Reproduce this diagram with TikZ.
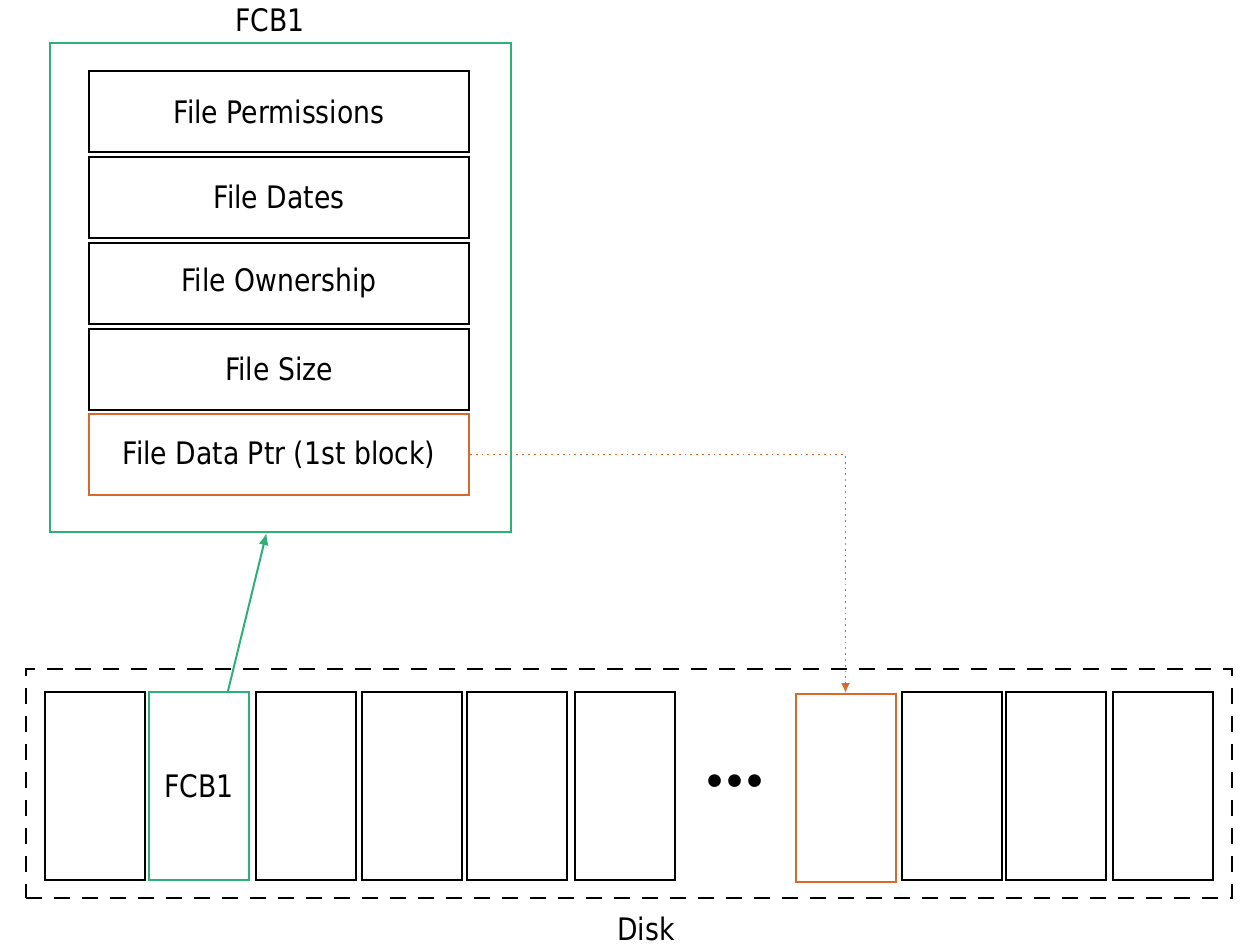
\documentclass[tikz,border=0pt]{standalone}
\usepackage{fontspec}
\setmainfont{DejaVu Sans}[FakeStretch=0.86]
\newfontfamily\dotfont{DejaVu Sans}
\usetikzlibrary{arrows.meta}

\definecolor{fcbgreen}{RGB}{45,176,118}
\definecolor{ptrorange}{RGB}{217,104,42}

\tikzset{
	field/.style={draw, line width=1pt, minimum width=190pt, minimum height=40.5pt, inner sep=0pt, font=\fontsize{15.5}{18}\selectfont},
	blk/.style={draw, line width=1pt, minimum width=50pt, minimum height=94pt, inner sep=0pt, font=\fontsize{15.5}{18}\selectfont},
	title/.style={font=\fontsize{15.5}{18}\selectfont, inner sep=0pt}
}

\begin{document}
\begin{tikzpicture}[x=0.5pt, y=-0.5pt]
	\useasboundingbox (0,0) rectangle (1240,947);
	% FCB in memory
	\node[draw=fcbgreen, line width=1pt, minimum width=230.5pt, minimum height=244.5pt, inner sep=0pt] (fcb) at (280.5,287.5) {};
	\node[title] (fcbtitle) at (270,20) {FCB1};
	\node[field] (perm) at (279,111.5) {File Permissions};
	\node[field] (dates) at (279,197) {File Dates};
	\node[field] (owner) at (279,283) {File Ownership};
	\node[field] (size) at (279,369) {File Size};
	\node[field, draw=ptrorange] (ptr) at (279,454.5) {File Data Ptr (1st block)};
	% disk
	\node[draw, dashed, dash pattern=on 8pt off 6pt, line width=1pt, minimum width=603pt, minimum height=114.5pt, inner sep=0pt] (disk) at (629,783.5) {};
	\node[title] (disklabel) at (646,929) {Disk};
	\node[blk] (b1) at (95,786) {};
	\node[blk, draw=fcbgreen] (b2) at (199,786) {FCB1};
	\node[blk] (b3) at (306,786) {};
	\node[blk] (b4) at (412,786) {};
	\node[blk] (b5) at (517,786) {};
	\node[blk] (b6) at (625,786) {};
	\node[inner sep=0pt, font=\dotfont\bfseries\fontsize{18}{20}\selectfont] (gap) at (735,785) {•\kern-1.5pt•\kern-1.5pt•};
	\node[blk, draw=ptrorange] (b7) at (845.5,788) {};
	\node[blk] (b8) at (952,786) {};
	\node[blk] (b9) at (1056,786) {};
	\node[blk] (b10) at (1163,786) {};
	% pointers
	\draw[fcbgreen, line width=1pt, -{Latex[length=6pt,width=5pt]}] ([xshift=14.5pt]b2.north) -- ([xshift=-7pt]fcb.south);
	\draw[ptrorange, line width=0.9pt, dotted, -{Latex[length=5pt,width=4.5pt]}] (ptr.east) -| (b7.north);
\end{tikzpicture}
\end{document}
